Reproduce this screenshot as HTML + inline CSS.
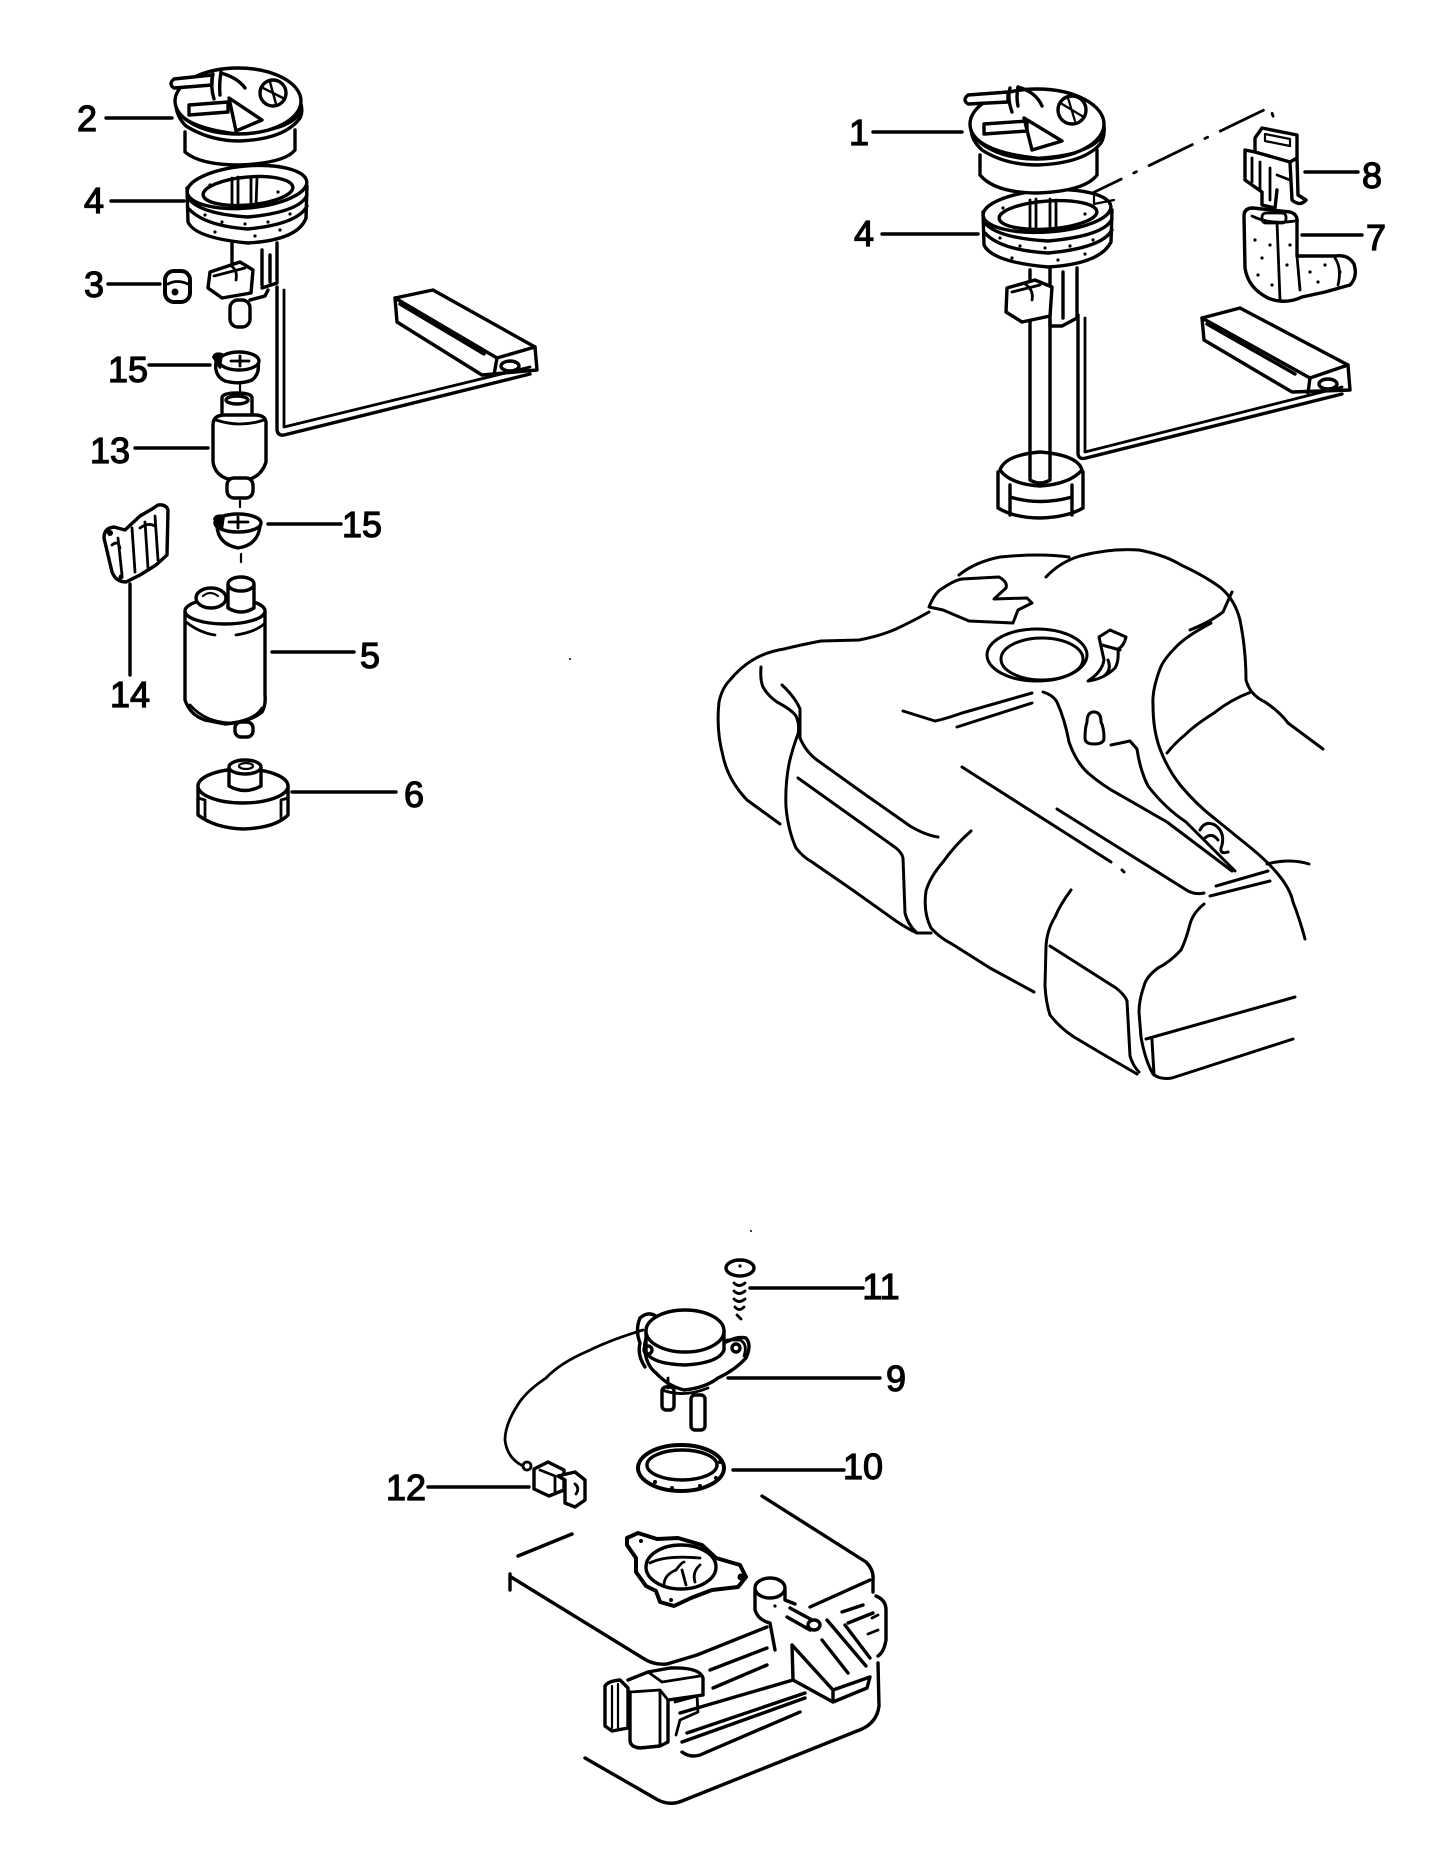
<!DOCTYPE html>
<html><head><meta charset="utf-8"><style>
html,body{margin:0;padding:0;background:#fff;}
svg{display:block;}
text{font-family:"Liberation Sans",sans-serif;font-size:36px;fill:#000;stroke:#000;stroke-width:1.2;text-anchor:middle;}
</style></head><body>
<svg width="1430" height="1853" viewBox="0 0 1430 1853" xmlns="http://www.w3.org/2000/svg">
<rect width="1430" height="1853" fill="#fff"/>
<g fill="none" stroke="#000" stroke-width="3.4" stroke-linecap="round" stroke-linejoin="round">

<!-- ============ TOP LEFT ASSEMBLY ============ -->
<path d="M106,118 L172,118 M111,201 L184,201 M108,284 L160,284 M149,365 L210,365 M135,448 L208,448 M268,524 L341,524 M130,584 L130,675 M272,652 L354,652 M292,792 L396,792"/>

<path d="M277,287 L277,430 Q278,436 284,435 L530,374"/>
<path d="M284,290 L284,427 L530,367" stroke-width="2.8"/>
<path d="M395,298 L433,290 L535,347 L497,358 Z" fill="#fff"/>
<path d="M395,298 L397,322 L482,375 L537,370 L535,347 M497,358 L494,375 M400,304 L484,354"/>
<ellipse cx="510" cy="366" rx="9" ry="5"/>

<path d="M185,132 L185,152 Q200,165 240,165 Q285,163 295,150 L295,130" fill="#fff"/>
<path d="M176,104 Q176,116 186,126 Q210,141 240,141 Q285,139 300,118 Q303,112 301,104" fill="#fff"/>
<ellipse cx="238" cy="101" rx="63" ry="33" fill="#fff"/>
<path d="M176,108 Q185,128 240,134 Q295,130 301,110" stroke-width="2.8"/>
<path d="M174,79 L212,75 L212,85 L174,88 Q168,84 174,79 Z" fill="#fff"/>
<path d="M213,74 Q210,86 214,99 M221,72 Q219,84 220,95"/>
<path d="M221,73 Q238,78 245,88"/>
<path d="M189,105 L228,102 L228,112 L189,115 Z"/>
<path d="M229,98 L262,120 L236,131 Z"/>
<circle cx="273" cy="93" r="13"/>
<path d="M263,88 L283,98 M270,82 L276,104" stroke-width="2.4"/>

<path d="M187,188 L188,222 Q195,238 248,243 Q298,240 306,218 L307,186" fill="#fff"/>
<ellipse cx="247" cy="187" rx="60" ry="21" transform="rotate(-5 247 187)" fill="#fff"/>
<ellipse cx="248" cy="191" rx="45" ry="14" transform="rotate(-5 248 191)"/>
<path d="M188,198 Q200,214 248,217 Q300,212 307,195"/>
<path d="M189,209 Q205,226 248,229 Q298,224 307,206"/>
<path d="M232,178 L232,208 M238,177 L238,209 M251,177 L251,208 M257,178 L256,206" stroke-width="2.8"/>
<g fill="#000" stroke="none">
<circle cx="205" cy="215" r="1.6"/><circle cx="222" cy="222" r="1.6"/><circle cx="245" cy="224" r="1.6"/><circle cx="268" cy="222" r="1.6"/><circle cx="290" cy="214" r="1.6"/><circle cx="215" cy="232" r="1.6"/><circle cx="255" cy="236" r="1.6"/><circle cx="280" cy="230" r="1.6"/><circle cx="210" cy="185" r="1.6"/><circle cx="278" cy="192" r="1.6"/>
</g>

<path d="M232,243 L232,262 M277,243 L277,283 L262,288 M262,250 L262,285 M270,255 L270,282" />
<path d="M210,272 L240,262 L253,270 L251,293 L222,298 L208,288 Z" fill="#fff"/>
<path d="M214,276 L245,268 M230,265 Q238,270 236,280" stroke-width="2.8"/>
<rect x="230" y="300" width="20" height="27" rx="8" fill="#fff"/>
<path d="M250,300 L265,296 L268,290"/>

<rect x="165" y="271" width="25" height="31" rx="9" fill="#fff" stroke-width="4"/>
<path d="M168,284 Q177,279 188,284" stroke-width="2.8"/>
<circle cx="175" cy="292" r="3.5" fill="#000" stroke="none"/>

<path d="M216,362 Q214,376 225,381 Q240,385 252,380 Q260,374 258,362" fill="#fff"/>
<ellipse cx="239" cy="361" rx="20" ry="9" fill="#fff"/>
<path d="M213,357 Q215,352 222,354 L220,368 Z" fill="#000" stroke-width="2"/>
<path d="M231,361 L249,361 M240,356 L240,366" stroke-width="2.8"/>
<path d="M240,385 L240,396" stroke-width="2.2"/>

<path d="M222,398 Q222,393 237,393 Q252,393 252,398 L252,420 L222,420 Z" fill="#fff"/>
<ellipse cx="237" cy="400" rx="11" ry="4"/>
<path d="M213,425 Q213,415 225,415 L255,415 Q267,415 266,425 L266,462 Q262,475 250,479 L228,479 Q215,475 213,462 Z" fill="#fff"/>
<path d="M216,420 Q240,428 264,420" stroke-width="2.8"/>
<rect x="227" y="478" width="26" height="20" rx="7" fill="#fff"/>
<path d="M240,501 L240,507" stroke-width="2.2"/>

<path d="M217,526 Q218,544 238,548 Q258,545 260,526" fill="#fff"/>
<ellipse cx="238" cy="523" rx="23" ry="9" fill="#fff"/>
<path d="M214,519 Q216,514 224,516 L222,530 Z" fill="#000" stroke-width="2"/>
<path d="M229,522 L248,522 M238,517 L238,528" stroke-width="2.8"/>
<path d="M241,554 L241,562" stroke-width="2.2"/>

<path d="M104,538 Q104,528 114,527 L125,530 L140,516 L152,509 L158,505 Q166,504 168,510 L167,555 L156,565 L140,575 L126,582 Q116,582 112,572 L108,555 Z" fill="#fff"/>
<path d="M118,538 L122,575 M132,528 L135,572 M145,522 L148,568 M155,516 L158,560 M112,545 Q118,540 120,548 M140,528 Q148,522 155,526" stroke-width="2.8"/>
<circle cx="110" cy="533" r="3" fill="#000" stroke="none"/>
<circle cx="121" cy="577" r="2.5" fill="#000" stroke="none"/>

<path d="M185,612 L185,700 Q190,715 205,720 L225,724 Q250,722 262,712 Q266,705 265,695 L265,612" fill="#fff"/>
<ellipse cx="225" cy="611" rx="40" ry="13" fill="#fff"/>
<path d="M186,622 Q200,633 215,635 M236,635 Q255,632 264,624" stroke-width="2.8"/>
<path d="M190,705 Q205,722 230,723 Q255,720 262,708" stroke-width="2.8"/>
<rect x="235" y="722" width="18" height="15" rx="6" fill="#fff"/>
<ellipse cx="211" cy="598" rx="15" ry="10" fill="#fff"/>
<path d="M203,596 Q210,590 218,596" stroke-width="2.2"/>
<path d="M228,585 L228,608 Q241,616 254,608 L254,585" fill="#fff"/>
<ellipse cx="241" cy="584" rx="13" ry="7" fill="#fff"/>

<path d="M198,786 L198,815 Q215,828 243,829 Q275,828 288,815 L288,786" fill="#fff"/>
<ellipse cx="243" cy="786" rx="45" ry="17" fill="#fff"/>
<path d="M198,798 L205,800 L205,818 M288,798 L281,800 L281,818" stroke-width="2.8"/>
<path d="M229,768 L229,786 Q245,795 261,786 L261,768" fill="#fff"/>
<ellipse cx="245" cy="767" rx="16" ry="7" fill="#fff"/>
<ellipse cx="246" cy="766" rx="7" ry="3" stroke-width="2.2"/>

<!-- ============ TOP RIGHT ASSEMBLY ============ -->
<path d="M873,132 L962,132 M882,234 L978,234 M1305,172 L1358,172 M1302,235 L1362,235"/>
<path d="M1078,200 L1270,107 L1275,122" stroke-width="2.8" stroke-dasharray="48,14,3,14"/>

<path d="M1078,315 L1078,454 Q1079,460 1086,458 L1342,394"/>
<path d="M1085,318 L1085,452 L1342,387" stroke-width="2.8"/>
<path d="M1202,318 L1240,308 L1348,365 L1310,378 Z" fill="#fff"/>
<path d="M1202,318 L1204,340 L1292,392 L1350,390 L1348,365 M1310,378 L1308,393 M1207,324 L1295,374"/>
<ellipse cx="1328" cy="384" rx="9" ry="5"/>

<path d="M1030,320 L1030,470 M1050,320 L1050,472"/>
<path d="M998,472 L998,508 Q1015,518 1040,518 Q1068,517 1083,508 L1083,472" fill="#fff"/>
<path d="M1000,470 Q1005,455 1040,452 Q1078,455 1082,470 Q1070,484 1040,486 Q1010,484 1000,470 Z" fill="#fff"/>
<path d="M1030,455 L1030,480 Q1040,486 1050,480 L1050,455" fill="#fff"/>
<path d="M1010,485 L1010,515 M1072,485 L1072,515 M1010,497 Q1040,506 1072,497"/>

<path d="M1030,322 L1030,270 M1050,268 L1050,325 M1077,268 L1077,318 L1062,326 L1050,326 M1063,272 L1063,318"/>
<path d="M1007,288 L1035,280 L1052,287 L1050,316 L1022,322 L1006,312 Z" fill="#fff"/>
<path d="M1012,292 L1040,285 M1025,284 Q1034,290 1032,300" stroke-width="2.8"/>

<path d="M983,212 L984,245 Q992,262 1048,267 Q1100,264 1111,242 L1112,210" fill="#fff"/>
<ellipse cx="1047" cy="211" rx="64" ry="21" transform="rotate(-4 1047 211)" fill="#fff"/>
<ellipse cx="1048" cy="215" rx="49" ry="14" transform="rotate(-4 1048 215)"/>
<path d="M984,222 Q996,238 1048,241 Q1104,236 1112,219"/>
<path d="M985,233 Q1000,250 1048,253 Q1102,248 1112,230"/>
<path d="M1030,200 L1030,228 M1036,199 L1036,229 M1050,199 L1050,228 M1056,200 L1056,227" stroke-width="2.8"/>
<path d="M1094,195 L1094,204 L1114,200" stroke-width="2.2"/>
<g fill="#000" stroke="none">
<circle cx="1000" cy="238" r="1.6"/><circle cx="1020" cy="246" r="1.6"/><circle cx="1045" cy="248" r="1.6"/><circle cx="1070" cy="246" r="1.6"/><circle cx="1093" cy="240" r="1.6"/><circle cx="1012" cy="258" r="1.6"/><circle cx="1058" cy="260" r="1.6"/><circle cx="1085" cy="254" r="1.6"/><circle cx="1003" cy="208" r="1.6"/><circle cx="1085" cy="214" r="1.6"/>
</g>

<path d="M980,155 L980,175 Q995,193 1038,193 Q1085,191 1097,175 L1097,150" fill="#fff"/>
<path d="M971,128 Q971,140 982,150 Q1005,165 1038,165 Q1085,163 1101,143 Q1105,136 1104,126" fill="#fff"/>
<ellipse cx="1037" cy="124" rx="67" ry="35" fill="#fff"/>
<path d="M971,130 Q980,152 1038,158 Q1097,154 1104,132" stroke-width="2.8"/>
<path d="M968,95 L1008,92 L1008,102 L968,104 Q962,100 968,95 Z" fill="#fff"/>
<path d="M1010,88 Q1007,98 1012,112 M1018,87 Q1016,97 1018,106"/>
<path d="M1018,87 Q1036,92 1042,106"/>
<path d="M984,124 L1027,121 L1027,131 L984,134 Z"/>
<path d="M1024,118 L1062,141 L1032,150 Z"/>
<circle cx="1072" cy="110" r="14"/>
<path d="M1062,104 L1082,116 M1068,98 L1075,121" stroke-width="2.2"/>

<path d="M1255,138 L1262,128 L1297,135 L1297,158 L1290,162 L1255,152 Z" fill="#fff"/>
<path d="M1265,134 L1290,139 L1290,146 L1265,141 Z" stroke-width="2.2"/>
<path d="M1255,152 L1245,150 L1245,180 L1262,192 L1262,205 L1275,208 L1277,190 M1290,162 L1292,200 Q1300,207 1306,200 L1298,195 L1297,158"/>
<path d="M1252,158 L1252,182 M1260,162 L1260,190 M1270,168 L1270,200 M1277,175 L1290,180" stroke-width="2.8"/>

<path d="M1244,216 Q1244,208 1253,208 L1290,212 Q1298,214 1297,223 L1297,256 L1335,256 Q1348,254 1354,264 Q1358,277 1350,285 L1325,292 L1302,297 Q1285,305 1268,298 Q1248,288 1245,268 Z" fill="#fff"/>
<path d="M1252,216 Q1270,225 1295,221" stroke-width="2.8"/>
<rect x="1262" y="213" width="24" height="10" rx="4" stroke-width="2.8"/>
<path d="M1277,222 L1280,300 M1297,256 L1300,290 M1335,258 Q1342,268 1338,285" stroke-width="2.8"/>
<g fill="#000" stroke="none">
<circle cx="1255" cy="240" r="1.6"/><circle cx="1262" cy="258" r="1.6"/><circle cx="1270" cy="245" r="1.6"/><circle cx="1258" cy="275" r="1.6"/><circle cx="1287" cy="265" r="1.6"/><circle cx="1290" cy="245" r="1.6"/><circle cx="1310" cy="272" r="1.6"/><circle cx="1325" cy="265" r="1.6"/><circle cx="1318" cy="282" r="1.6"/><circle cx="1340" cy="272" r="1.6"/><circle cx="1272" cy="285" r="1.6"/>
</g>

<!-- ============ BIG TANK ============ -->
<g stroke-width="3">
<path d="M780,824 L747,800 Q728,780 723,756 Q716,730 719,702 Q722,688 730,680 Q740,668 751,661 Q765,652 784,649 Q800,645 821,641 L859,640 Q880,636 896,629 Q915,620 929,612"/>
<path d="M929,607 Q935,592 943,588 Q955,580 962,579 L999,577 Q1008,582 1006,588 L994,599 L1027,598 L1032,603 L1018,610 L1013,623 L969,621 L943,610 Z"/>
<path d="M959,575 Q975,562 1000,557 Q1040,553 1069,557"/>
<path d="M1046,577 Q1060,562 1080,556 Q1110,548 1139,550 Q1165,555 1181,565 Q1205,576 1221,588 Q1235,600 1240,620 Q1246,650 1246,680 Q1250,695 1265,702 Q1280,712 1288,723 L1323,749"/>
<path d="M1232,592 Q1226,605 1223,612 Q1210,622 1190,630"/>
<path d="M1211,623 Q1185,637 1176,647 Q1163,660 1160,669 Q1152,690 1153,705 Q1153,730 1160,749 Q1168,770 1181,786 Q1197,805 1214,818 L1251,848 Q1268,862 1277,873 Q1290,888 1293,902 Q1300,920 1305,939"/>
<path d="M1251,692 Q1230,700 1214,713 Q1195,725 1186,734 Q1175,743 1167,753"/>
<path d="M1267,864 Q1290,858 1309,864"/>
<path d="M1057,809 L1188,891 Q1196,895 1204,893 M1216,886 L1268,871 M1210,896 L1270,881"/>
<path d="M1204,904 Q1193,913 1190,924 Q1186,940 1181,950 Q1170,962 1158,968 Q1146,977 1144,986 Q1139,1000 1139,1012 L1141,1037 Q1145,1060 1153,1074 Q1160,1080 1172,1078 L1293,1039"/>
<path d="M1146,1039 L1295,997 M1152,1040 L1154,1075"/>
<path d="M1071,890 Q1060,905 1055,917 Q1047,930 1046,946 L1045,986 Q1046,1003 1050,1015 Q1060,1028 1074,1037 L1106,1056 L1137,1074"/>
<path d="M1050,946 L1116,988 Q1125,995 1127,1001 L1130,1056 Q1133,1066 1139,1072"/>
<path d="M971,831 Q955,845 943,862 Q930,877 926,891 Q923,912 931,928 Q940,938 952,944 L990,968 L1034,992"/>
<path d="M761,667 Q760,680 763,687 Q768,696 777,702 Q792,710 796,716 Q800,725 798,734 Q792,750 789,764 Q785,785 786,807 Q788,830 796,848 Q803,857 812,862 L854,891 L896,921 Q908,929 917,933 L931,933"/>
<path d="M782,685 Q795,697 800,709 L800,738 Q806,752 817,760 L863,793 L910,826 Q925,835 938,837"/>
<path d="M798,778 L854,818 L896,848 Q902,853 903,858 L905,913 Q908,925 917,933"/>
<path d="M903,711 L935,721 Q945,719 962,713 L1032,693 M957,727 L1032,703"/>
<path d="M962,767 L1111,862 M1122,870 L1124,872"/>
<path d="M1043,692 Q1053,695 1057,702 Q1065,720 1069,742 Q1076,762 1088,773 Q1103,786 1120,795 L1167,822 L1232,871"/>
<ellipse cx="1037" cy="655" rx="50" ry="26"/>
<ellipse cx="1042" cy="659" rx="41" ry="21"/>
<path d="M1088,681 Q1102,672 1104,660 L1099,637 L1110,630 L1126,637 Q1124,646 1118,649 Q1119,662 1115,668 Q1104,679 1088,681 Z" fill="#fff"/>
<path d="M1102,645 L1120,650 M1108,660 Q1112,670 1104,676"/>
<path d="M1087,722 Q1087,712 1094,712 Q1101,712 1101,722 Q1104,728 1104,738 Q1104,744 1094,744 Q1085,744 1085,738 Q1085,728 1087,722 Z"/>
<path d="M1111,745 L1130,741 L1137,749 Q1140,770 1148,786 Q1165,808 1186,822 L1235,871"/>
<path d="M1200,830 Q1205,820 1215,825 Q1225,832 1222,845 Q1218,855 1228,852 M1205,838 Q1212,832 1218,840"/>
</g>

<!-- ============ BOTTOM ASSEMBLY ============ -->
<path d="M750,1288 L863,1288 M728,1378 L880,1378 M733,1470 L844,1470 M428,1487 L529,1487"/>

<ellipse cx="740" cy="1268" rx="14" ry="8" fill="#fff"/>
<circle cx="740" cy="1266" r="1.6" fill="#000" stroke="none"/>
<path d="M734,1283 Q739,1288 745,1283 M734,1291 Q739,1296 745,1291 M734,1299 Q739,1304 745,1299 M735,1307 Q739,1312 744,1307 M737,1315 L741,1319" stroke-width="2.8"/>

<path d="M640,1318 Q648,1311 656,1316 L650,1330 Q643,1342 645,1352 Q647,1366 656,1373 Q668,1386 684,1390 Q705,1388 718,1378 Q735,1370 746,1358 Q752,1345 746,1338 Q738,1336 726,1342" fill="#fff"/>
<path d="M640,1318 Q635,1330 640,1343 Q637,1355 645,1367"/>
<path d="M646,1331 L646,1352 Q652,1364 685,1365 Q719,1363 724,1350 L724,1331" fill="#fff"/>
<ellipse cx="685" cy="1331" rx="39" ry="21" fill="#fff"/>
<path d="M727,1340 L740,1340 Q748,1344 744,1356" stroke-width="2.8"/>
<circle cx="648" cy="1350" r="4"/>
<circle cx="736" cy="1348" r="4"/>
<rect x="662" y="1387" width="12" height="23" rx="4" fill="#fff"/>
<rect x="691" y="1395" width="14" height="35" rx="4" fill="#fff"/>
<path d="M668,1378 L668,1388 M662,1390 Q684,1398 708,1388" stroke-width="2.8"/>
<path d="M643,1330 Q610,1340 588,1351 Q560,1363 546,1378 Q525,1392 517,1406 Q505,1425 505,1440 Q507,1458 523,1466" stroke-width="2.8"/>
<circle cx="527" cy="1466" r="4" stroke-width="2.8"/>
<path d="M534,1469 L548,1462 L564,1470 L564,1490 L549,1496 L534,1489 Z" fill="#fff"/>
<path d="M558,1476 L575,1472 L585,1480 L585,1500 L575,1507 L565,1503 L565,1480 Z" fill="#fff"/>
<path d="M540,1470 L555,1476 L555,1494 M575,1484 Q580,1488 576,1494" stroke-width="2.8"/>

<ellipse cx="681" cy="1468" rx="43" ry="23" stroke-width="4"/>
<ellipse cx="682" cy="1465" rx="35" ry="15"/>
<g fill="#000" stroke="none">
<circle cx="700" cy="1486" r="2"/><circle cx="716" cy="1478" r="2"/><circle cx="720" cy="1462" r="2"/><circle cx="672" cy="1488" r="2"/><circle cx="655" cy="1482" r="2"/>
</g>

<path d="M518,1556 L572,1534"/>
<path d="M510,1574 L510,1590"/>
<path d="M511,1577 L646,1660 Q655,1665 667,1664 L697,1655 L767,1627 M810,1607 L870,1580"/>
<path d="M762,1496 L866,1562 Q874,1570 873,1580 L873,1592"/>
<path d="M876,1596 Q886,1600 886,1610 L886,1640 Q884,1652 878,1656 M878,1663 L879,1706 Q877,1722 862,1729 L682,1801 Q670,1806 658,1800 L585,1758"/>
<path d="M878,1615 L872,1618 M878,1630 L868,1634" stroke-width="2.8"/>

<path d="M627,1538 L638,1533 L657,1539 L678,1538 L702,1545 L716,1558 L740,1565 L746,1577 L738,1587 L712,1590 L691,1598 L674,1606 L660,1602 L656,1591 L646,1586 L636,1572 L636,1558 L627,1545 Z" stroke-width="4"/>
<ellipse cx="681" cy="1567" rx="35" ry="22"/>
<path d="M650,1563 Q665,1555 700,1558 M664,1585 Q664,1575 676,1570 Q682,1562 684,1562 M682,1570 L686,1585 M695,1582 Q692,1572 700,1565" stroke-width="2.8"/>
<circle cx="641" cy="1541" r="2" fill="#000" stroke="none"/>
<circle cx="741" cy="1577" r="3.5" fill="#000" stroke="none"/>
<circle cx="671" cy="1600" r="2" fill="#000" stroke="none"/>

<path d="M755,1590 L755,1610 Q758,1620 770,1623 L775,1650 M785,1590 L785,1600 L795,1604"/>
<ellipse cx="770" cy="1588" rx="15" ry="10" fill="#fff"/>
<circle cx="775" cy="1606" r="1.6" fill="#000" stroke="none"/>
<path d="M790,1608 L812,1620 M787,1617 L810,1630"/>
<ellipse cx="814" cy="1625" rx="6" ry="5"/>
<path d="M792,1645 L793,1680 L833,1702 L867,1688 L870,1677 M792,1645 L833,1690 L833,1702 M833,1690 L870,1677 M827,1620 L866,1666 M822,1640 L848,1673 M845,1625 L870,1658"/>
<path d="M842,1612 L863,1605 M848,1623 L873,1613"/>

<path d="M605,1686 Q608,1681 620,1680 L628,1688 L628,1728 L612,1731 L605,1726 Z" fill="#fff"/>
<path d="M612,1686 L612,1728 M618,1684 L618,1729" stroke-width="2.2"/>
<path d="M628,1680 L648,1672 L670,1668 Q700,1667 703,1678 L703,1695 L668,1700 L668,1742 L660,1746 L640,1748 Q630,1747 630,1740 L630,1692"/>
<path d="M630,1692 L660,1690 L668,1700 M660,1690 L660,1745 M648,1672 L662,1682 L700,1676 M675,1702 L697,1696 L698,1712 L680,1720 L676,1735" stroke-width="2.8"/>
<path d="M710,1670 L767,1648 M713,1688 L767,1665"/>
<path d="M680,1713 L793,1680 M687,1733 L805,1693 M682,1742 L805,1698 M682,1752 Q690,1758 700,1755 L800,1712"/>

<circle cx="570" cy="659" r="1" fill="#000" stroke="none"/>
<circle cx="751" cy="1231" r="1" fill="#000" stroke="none"/>
</g>

<!-- ============ LABELS ============ -->
<text x="87" y="131">2</text>
<text x="94" y="213">4</text>
<text x="94" y="297">3</text>
<text x="128" y="382">15</text>
<text x="110" y="463">13</text>
<text x="362" y="537">15</text>
<text x="130" y="707">14</text>
<text x="370" y="668">5</text>
<text x="414" y="807">6</text>
<text x="859" y="145">1</text>
<text x="864" y="246">4</text>
<text x="1372" y="188">8</text>
<text x="1376" y="250">7</text>
<text x="881" y="1299">11</text>
<text x="896" y="1391">9</text>
<text x="863" y="1479">10</text>
<text x="406" y="1500">12</text>
</svg>
</body></html>
